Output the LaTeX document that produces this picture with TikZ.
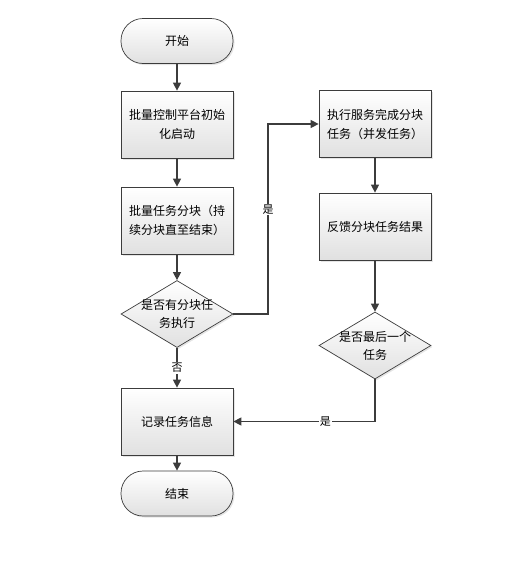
\documentclass[tikz,border=0pt]{standalone}
\usepackage{fontspec}
\setmainfont{Noto Sans CJK SC}
\usetikzlibrary{arrows.meta,shapes.geometric,shadows}
\definecolor{linec}{HTML}{3C3C3C}
\tikzset{
  base/.style={draw=linec, line width=0.7pt, top color=white, bottom color=black!12,
    drop shadow={shadow xshift=1.5pt, shadow yshift=-1.5pt, opacity=0.25, fill=black!40},
    font=\fontsize{12}{19}\selectfont, align=center, inner sep=0pt},
  proc/.style={base, rectangle, minimum width=112pt, minimum height=67pt},
  term/.style={base, rectangle, rounded corners=22pt, minimum width=112pt, minimum height=45pt},
  dec/.style={base, diamond, aspect=1.67, minimum width=112pt, minimum height=67pt},
  dtext/.style={font=\fontsize{12}{18}\selectfont, align=center, inner sep=0pt},
  conn/.style={draw=linec, line width=1.2pt, -{Triangle[length=8pt,width=8pt]}},
  lab/.style={fill=white, inner sep=1pt, font=\fontsize{11}{12}\selectfont}
}
\begin{document}
\begin{tikzpicture}[x=1pt,y=-1pt]
\useasboundingbox (0,0) rectangle (510,568);
\node[term] (start) at (177,41) {开始};
\node[proc] (init) at (177,124.5) {批量控制平台初始\\化启动};
\node[proc] (split) at (177,220.5) {批量任务分块（持\\续分块直至结束）};
\node[dec] (d1) at (177,314) {};
\node[dtext] (d1t) at (177,314) {是否有分块任\\务执行};
\node[proc] (rec) at (177,421.5) {记录任务信息};
\node[term] (end) at (177,493.5) {结束};
\node[proc] (exec) at (375,124) {执行服务完成分块\\任务（并发任务）};
\node[proc] (fb) at (375,226.5) {反馈分块任务结果};
\node[dec] (d2) at (375,345.5) {};
\node[dtext] (d2t) at (375,345.5) {是否最后一个\\任务};
\coordinate (c1) at (268,314);
\coordinate (c2) at (268,124);
\coordinate (c3) at (375,421.5);

\draw[conn] (start) -- (init);
\draw[conn] (init) -- (split);
\draw[conn] (split) -- (d1);
\draw[conn] (d1) -- node[lab, pos=0.5] (no) {否} (rec);
\draw[conn] (rec) -- (end);
\draw[conn] (d1.east) -- (c1) -- node[lab, pos=0.55] (yes1) {是} (c2) -- (exec.west);
\draw[conn] (exec) -- (fb);
\draw[conn] (fb) -- (d2);
\draw[conn] (d2.south) -- (c3) -- node[lab, pos=0.35] (yes2) {是} (rec.east);
\end{tikzpicture}
\end{document}
